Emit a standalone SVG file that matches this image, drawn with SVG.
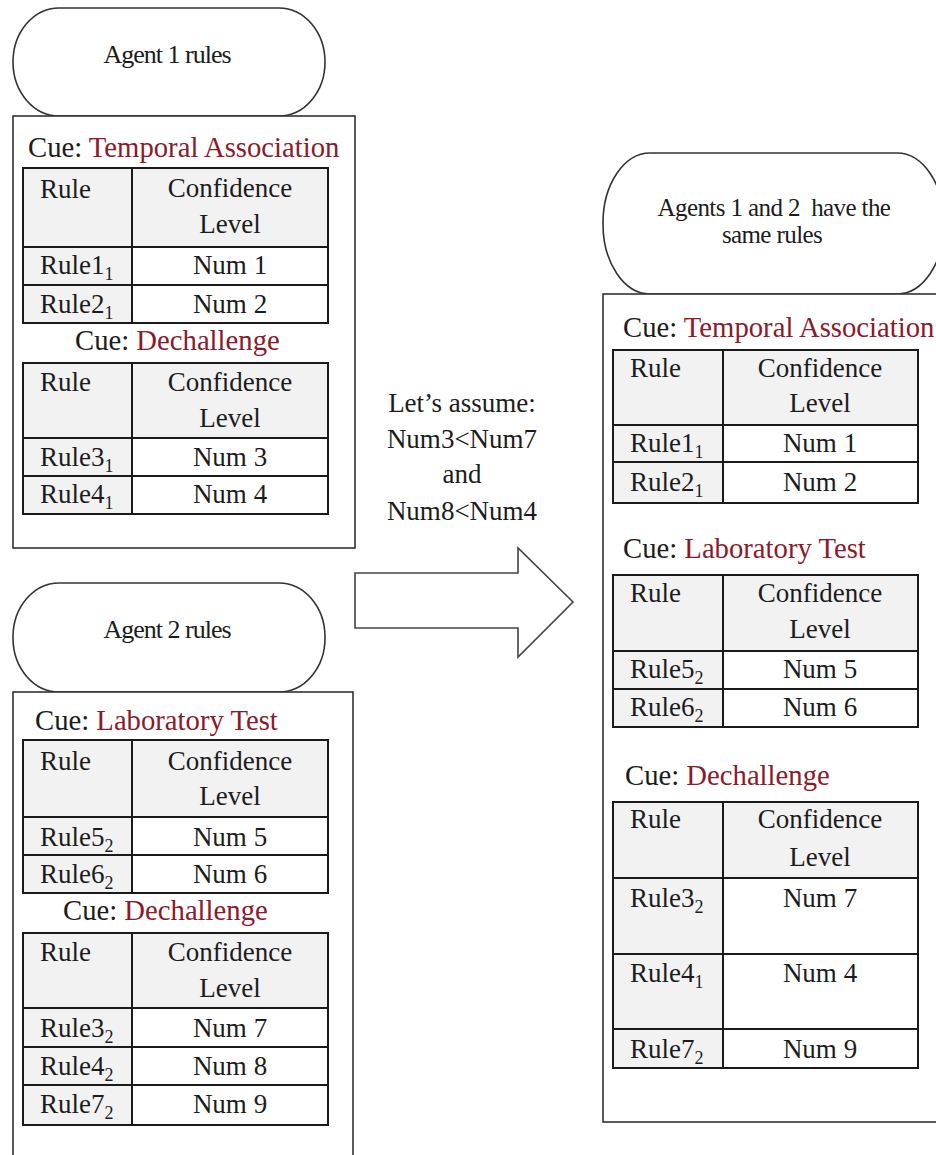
<svg xmlns="http://www.w3.org/2000/svg" width="936" height="1155" viewBox="0 0 936 1155" font-family="'Liberation Serif', 'DejaVu Serif', serif">
<style>
.t{font-family:'Liberation Serif','DejaVu Serif',serif;font-size:27px;fill:#1c1c1c}
.m{text-anchor:middle}
.cue{font-size:28.7px}
.red{fill:#8b1a2b}
.pt{font-size:26px;letter-spacing:-1px;text-anchor:middle}
.pt3{font-size:25px;letter-spacing:-0.6px;text-anchor:middle;white-space:pre}
.sub{font-size:18px}
.box{fill:#fff;stroke:#333;stroke-width:1.6}
.pill{fill:#fff;stroke:#333;stroke-width:1.6}
.hdr{fill:#f2f2f2}
.grid{fill:none;stroke:#1a1a1a;stroke-width:2}
.arrow{fill:#fff;stroke:#444;stroke-width:1.6;stroke-linejoin:miter}
</style>
<rect width="936" height="1155" fill="#fff"/>

<!-- Agent 1 -->
<g id="agent1-label">
<rect class="pill" x="13" y="8" width="312" height="108" rx="46" ry="54"/>
<text class="t pt" x="167" y="63">Agent 1 rules</text>
</g>
<g id="agent1-rules">
<rect class="box" x="13" y="116" width="342" height="432"/>
<text class="t cue" x="28" y="157">Cue: <tspan class="red">Temporal Association</tspan></text>
<g id="agent1-table1">
<rect class="hdr" x="23" y="168" width="305" height="79"/>
<rect class="hdr" x="23" y="247" width="109" height="76"/>
<rect class="grid" x="23" y="168" width="305" height="155"/>
<path class="grid" d="M23 247H328M23 285H328M132 168V323"/>
<text class="t" x="40" y="198">Rule</text>
<text class="t m" x="230" y="197">Confidence</text>
<text class="t m" x="230" y="233">Level</text>
<text class="t" x="40" y="274">Rule1<tspan class="sub" dy="6">1</tspan></text>
<text class="t m" x="230" y="274">Num 1</text>
<text class="t" x="40" y="313">Rule2<tspan class="sub" dy="6">1</tspan></text>
<text class="t m" x="230" y="313">Num 2</text>
</g>
<text class="t cue" x="75" y="350">Cue: <tspan class="red">Dechallenge</tspan></text>
<g id="agent1-table2">
<rect class="hdr" x="23" y="363" width="305" height="75"/>
<rect class="hdr" x="23" y="438" width="109" height="76"/>
<rect class="grid" x="23" y="363" width="305" height="151"/>
<path class="grid" d="M23 438H328M23 476H328M132 363V514"/>
<text class="t" x="40" y="391">Rule</text>
<text class="t m" x="230" y="391">Confidence</text>
<text class="t m" x="230" y="427">Level</text>
<text class="t" x="40" y="466">Rule3<tspan class="sub" dy="6">1</tspan></text>
<text class="t m" x="230" y="466">Num 3</text>
<text class="t" x="40" y="503">Rule4<tspan class="sub" dy="6">1</tspan></text>
<text class="t m" x="230" y="503">Num 4</text>
</g>
</g>

<!-- Agent 2 -->
<g id="agent2-label">
<rect class="pill" x="13" y="583" width="312" height="109" rx="46" ry="54"/>
<text class="t pt" x="167" y="638">Agent 2 rules</text>
</g>
<g id="agent2-rules">
<rect class="box" x="13" y="692" width="340" height="480"/>
<text class="t cue" x="35" y="730">Cue: <tspan class="red">Laboratory Test</tspan></text>
<g id="agent2-table1">
<rect class="hdr" x="23" y="740" width="305" height="77"/>
<rect class="hdr" x="23" y="817" width="109" height="76"/>
<rect class="grid" x="23" y="740" width="305" height="153"/>
<path class="grid" d="M23 817H328M23 855H328M132 740V893"/>
<text class="t" x="40" y="770">Rule</text>
<text class="t m" x="230" y="770">Confidence</text>
<text class="t m" x="230" y="805">Level</text>
<text class="t" x="40" y="846">Rule5<tspan class="sub" dy="6">2</tspan></text>
<text class="t m" x="230" y="846">Num 5</text>
<text class="t" x="40" y="883">Rule6<tspan class="sub" dy="6">2</tspan></text>
<text class="t m" x="230" y="883">Num 6</text>
</g>
<text class="t cue" x="63" y="920">Cue: <tspan class="red">Dechallenge</tspan></text>
<g id="agent2-table2">
<rect class="hdr" x="23" y="933" width="305" height="75"/>
<rect class="hdr" x="23" y="1008" width="109" height="117"/>
<rect class="grid" x="23" y="933" width="305" height="192"/>
<path class="grid" d="M23 1008H328M23 1047H328M23 1085H328M132 933V1125"/>
<text class="t" x="40" y="961">Rule</text>
<text class="t m" x="230" y="961">Confidence</text>
<text class="t m" x="230" y="997">Level</text>
<text class="t" x="40" y="1037">Rule3<tspan class="sub" dy="6">2</tspan></text>
<text class="t m" x="230" y="1037">Num 7</text>
<text class="t" x="40" y="1075">Rule4<tspan class="sub" dy="6">2</tspan></text>
<text class="t m" x="230" y="1075">Num 8</text>
<text class="t" x="40" y="1113">Rule7<tspan class="sub" dy="6">2</tspan></text>
<text class="t m" x="230" y="1113">Num 9</text>
</g>
</g>

<!-- Connector -->
<g id="connectors">
<text class="t m" x="462" y="412">Let’s assume:</text>
<text class="t m" x="462" y="448">Num3&lt;Num7</text>
<text class="t m" x="462" y="483">and</text>
<text class="t m" x="462" y="520">Num8&lt;Num4</text>
<polygon class="arrow" points="355,573 518,573 518,548 573,602 518,657 518,628 355,628"/>
</g>

<!-- Merged -->
<g id="merged-label">
<rect class="pill" x="603" y="153" width="341" height="141" rx="47" ry="70"/>
<text class="t pt3" x="774" y="216">Agents 1 and 2  have the</text>
<text class="t pt3" x="772" y="243">same rules</text>
</g>
<g id="merged-rules">
<rect class="box" x="603" y="294" width="345" height="828"/>
<text class="t cue" x="623" y="337">Cue: <tspan class="red">Temporal Association</tspan></text>
<g id="merged-table1">
<rect class="hdr" x="613" y="350" width="305" height="75"/>
<rect class="hdr" x="613" y="425" width="110" height="78"/>
<rect class="grid" x="613" y="350" width="305" height="153"/>
<path class="grid" d="M613 425H918M613 462H918M723 350V503"/>
<text class="t" x="630" y="377">Rule</text>
<text class="t m" x="820" y="377">Confidence</text>
<text class="t m" x="820" y="412">Level</text>
<text class="t" x="630" y="452">Rule1<tspan class="sub" dy="6">1</tspan></text>
<text class="t m" x="820" y="452">Num 1</text>
<text class="t" x="630" y="491">Rule2<tspan class="sub" dy="6">1</tspan></text>
<text class="t m" x="820" y="491">Num 2</text>
</g>
<text class="t cue" x="623" y="558">Cue: <tspan class="red">Laboratory Test</tspan></text>
<g id="merged-table2">
<rect class="hdr" x="613" y="575" width="305" height="76"/>
<rect class="hdr" x="613" y="651" width="110" height="76"/>
<rect class="grid" x="613" y="575" width="305" height="152"/>
<path class="grid" d="M613 651H918M613 689H918M723 575V727"/>
<text class="t" x="630" y="602">Rule</text>
<text class="t m" x="820" y="602">Confidence</text>
<text class="t m" x="820" y="638">Level</text>
<text class="t" x="630" y="678">Rule5<tspan class="sub" dy="6">2</tspan></text>
<text class="t m" x="820" y="678">Num 5</text>
<text class="t" x="630" y="716">Rule6<tspan class="sub" dy="6">2</tspan></text>
<text class="t m" x="820" y="716">Num 6</text>
</g>
<text class="t cue" x="625" y="785">Cue: <tspan class="red">Dechallenge</tspan></text>
<g id="merged-table3">
<rect class="hdr" x="613" y="802" width="305" height="76"/>
<rect class="hdr" x="613" y="878" width="110" height="190"/>
<rect class="grid" x="613" y="802" width="305" height="266"/>
<path class="grid" d="M613 878H918M613 954H918M613 1029H918M723 802V1068"/>
<text class="t" x="630" y="828">Rule</text>
<text class="t m" x="820" y="828">Confidence</text>
<text class="t m" x="820" y="866">Level</text>
<text class="t" x="630" y="907">Rule3<tspan class="sub" dy="6">2</tspan></text>
<text class="t m" x="820" y="907">Num 7</text>
<text class="t" x="630" y="982">Rule4<tspan class="sub" dy="6">1</tspan></text>
<text class="t m" x="820" y="982">Num 4</text>
<text class="t" x="630" y="1058">Rule7<tspan class="sub" dy="6">2</tspan></text>
<text class="t m" x="820" y="1058">Num 9</text>
</g>
</g>
</svg>
